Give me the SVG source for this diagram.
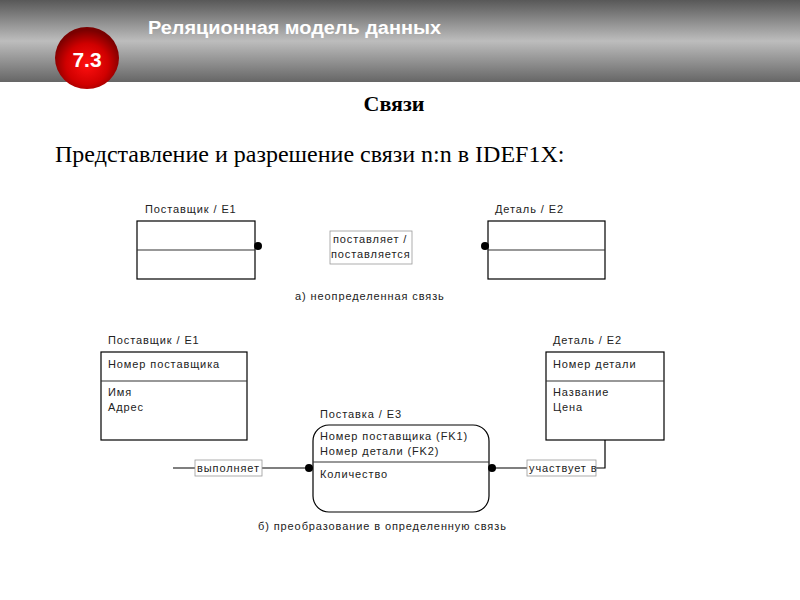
<svg xmlns="http://www.w3.org/2000/svg" width="800" height="600" viewBox="0 0 800 600">
<defs>
<linearGradient id="hdr" x1="0" y1="0" x2="0" y2="1">
<stop offset="0" stop-color="#585858"/>
<stop offset="0.5" stop-color="#bdbdbd"/>
<stop offset="1" stop-color="#666666"/>
</linearGradient>
<radialGradient id="badge" cx="0.5" cy="0.6" r="0.55">
<stop offset="0" stop-color="#ff1010"/>
<stop offset="0.6" stop-color="#d00000"/>
<stop offset="1" stop-color="#7a0000"/>
</radialGradient>
<style>
.ent{fill:#fff;stroke:#000;stroke-width:1.2}
.div{stroke:#333;stroke-width:1.2}
.t{font-family:"Liberation Sans",Arial,sans-serif;font-size:11px;letter-spacing:0.9px;fill:#222}
.cap{font-family:"Liberation Sans",Arial,sans-serif;font-size:11px;letter-spacing:0.9px;fill:#222}
.lbl{fill:#fff;stroke:#999;stroke-width:0.8}
.ln{stroke:#000;stroke-width:1.2;fill:none}
.dot{fill:#000}
</style>
</defs>
<g id="header">
<rect x="0" y="0" width="800" height="82" fill="url(#hdr)"/>
<text x="148" y="34" font-family="Liberation Sans,Arial,sans-serif" font-weight="bold" font-size="18" fill="#fff" textLength="293" lengthAdjust="spacingAndGlyphs">Реляционная модель данных</text>
<ellipse cx="87" cy="58" rx="32" ry="31" fill="url(#badge)"/>
<text x="87" y="67" text-anchor="middle" font-family="Liberation Sans,Arial,sans-serif" font-weight="bold" font-size="21" fill="#fff">7.3</text>
</g>
<text x="394" y="111" text-anchor="middle" font-family="Liberation Serif,Times New Roman,serif" font-weight="bold" font-size="22" fill="#000">Связи</text>
<text x="55" y="162" font-family="Liberation Serif,Times New Roman,serif" font-size="24" fill="#000">Представление и разрешение связи n:n в IDEF1X:</text>

<g id="e1a">
<text class="cap" x="145" y="213">Поставщик / E1</text>
<rect class="ent" x="137" y="221" width="118" height="58"/>
<line class="div" x1="137" y1="250" x2="255" y2="250"/>
</g>
<g id="e2a">
<text class="cap" x="495" y="213">Деталь / E2</text>
<rect class="ent" x="488" y="221" width="117" height="58"/>
<line class="div" x1="488" y1="250" x2="605" y2="250"/>
</g>
<g id="rel-a">
<rect class="lbl" x="330" y="231" width="82" height="33"/>
<text class="t" x="333" y="243">поставляет /</text>
<text class="t" x="331" y="258">поставляется</text>
</g>
<text class="cap" x="295" y="300">а) неопределенная связь</text>

<g id="e1b">
<text class="cap" x="108" y="344">Поставщик / E1</text>
<rect class="ent" x="101" y="352" width="146" height="88"/>
<line class="div" x1="101" y1="381" x2="247" y2="381"/>
<text class="t" x="108" y="368">Номер поставщика</text>
<text class="t" x="108" y="396">Имя</text>
<text class="t" x="108" y="411">Адрес</text>
</g>
<g id="e2b">
<text class="cap" x="553" y="344">Деталь / E2</text>
<rect class="ent" x="546" y="352" width="118" height="88"/>
<line class="div" x1="546" y1="381" x2="664" y2="381"/>
<text class="t" x="553" y="368">Номер детали</text>
<text class="t" x="553" y="396">Название</text>
<text class="t" x="553" y="411">Цена</text>
</g>
<g id="e3b">
<text class="cap" x="320" y="418">Поставка / E3</text>
<rect class="ent" x="313" y="425" width="176" height="87" rx="16" ry="16"/>
<line class="div" x1="313" y1="462" x2="489" y2="462"/>
<text class="t" x="320" y="440">Номер поставщика (FK1)</text>
<text class="t" x="320" y="455">Номер детали (FK2)</text>
<text class="t" x="320" y="478">Количество</text>
</g>
<g id="connectors">
<circle class="dot" cx="258" cy="246" r="4"/>
<circle class="dot" cx="485" cy="246" r="4"/>
<line class="ln" x1="173" y1="468" x2="309" y2="468"/>
<circle class="dot" cx="309" cy="468" r="4"/>
<polyline class="ln" points="492,468 605,468 605,440"/>
<circle class="dot" cx="492" cy="468" r="4"/>
<rect class="lbl" x="195" y="460" width="67" height="16"/>
<text class="t" x="197" y="472">выполняет</text>
<rect class="lbl" x="527" y="460" width="69" height="16"/>
<text class="t" x="529" y="472">участвует в</text>
</g>
<text class="cap" x="258" y="530">б) преобразование в определенную связь</text>
</svg>
